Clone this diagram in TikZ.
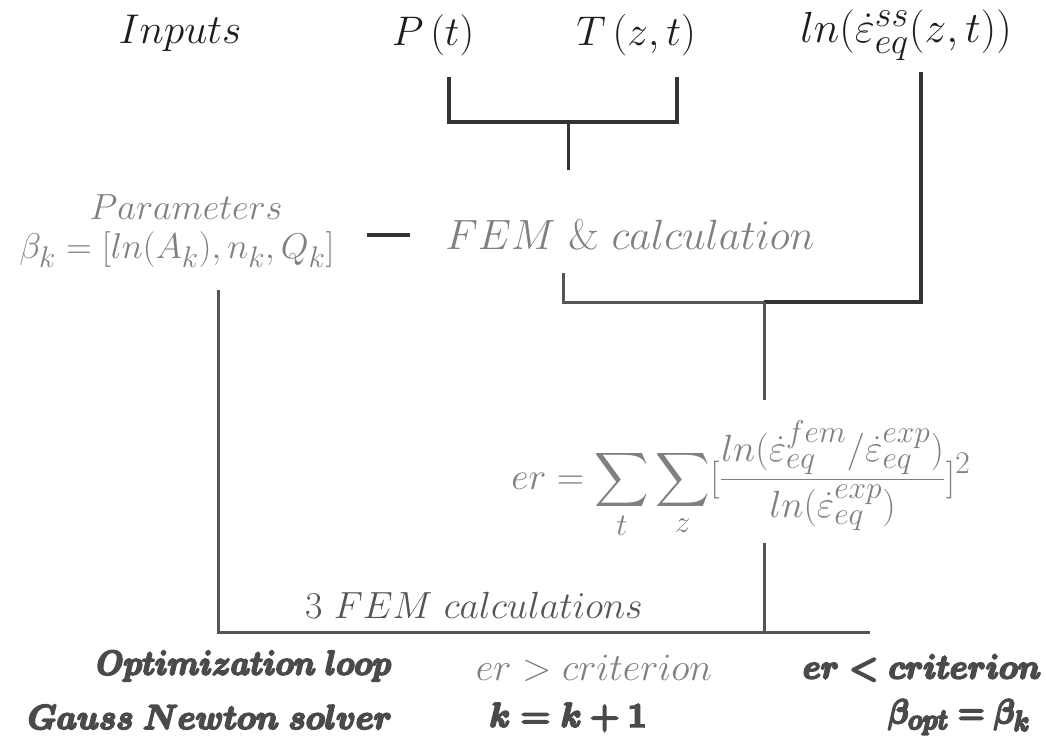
\documentclass[tikz,border=0pt]{standalone}
\usepackage{fix-cm}
\usepackage{amsmath,bm}
\definecolor{inkdark}{HTML}{1E1E1E}
\definecolor{inkgray}{HTML}{808080}
\definecolor{inkmid}{HTML}{555555}
\definecolor{inkbold}{HTML}{4A4A4A}
\definecolor{linedark}{HTML}{333333}
\definecolor{linegray}{HTML}{555555}
\newcommand\heavytext[1]{\special{pdf:literal direct 2 Tr 1.5 w}#1\special{pdf:literal direct 0 Tr}}
\begin{document}
\begin{tikzpicture}[x=1pt,y=-1pt,
  txt/.style={font=\Huge, inner sep=0pt, anchor=center},
  bld/.style={font=\Huge\boldmath, inner sep=0pt, anchor=center, text=inkbold},
  wire/.style={line width=3pt, color=linegray},
  wiredark/.style={line width=3.5pt, color=linedark}]
\path[use as bounding box, fill=white] (0,0) rectangle (1046,749);
% top row
\node[txt, scale=1.67, text=inkdark] (inputs) at (180,33) {$Inputs$};
\node[txt, scale=1.66, text=inkdark] (P) at (433,35) {$P\left(t\right)$};
\node[txt, scale=1.67, text=inkdark] (T) at (636,35) {$T\left(z,t\right)$};
\node[txt, scale=1.75, text=inkdark] (eps) at (906,35) {$ln(\dot{\varepsilon}^{ss}_{eq}(z,t))$};
% middle
\node[txt, scale=1.46, text=inkgray] (params) at (186,207) {$Parameters$};
\node[txt, scale=1.44, text=inkgray] (beta) at (177,250) {$\beta_k=[ln(A_k),n_k,Q_k]$};
\node[txt, scale=1.7, text=inkgray] (fem) at (630,235) {$FEM\ \&\ calculation$};
\node[txt, scale=1.52, text=inkgray] (er) at (741,480) {$\displaystyle er=\sum_t\sum_z[\frac{ln(\dot{\varepsilon}^{fem}_{eq}/\dot{\varepsilon}^{exp}_{eq})}{ln(\dot{\varepsilon}^{exp}_{eq})}]^2$};
\node[txt, scale=1.52, text=inkmid] (three) at (474,605) {$3\ FEM\ calculations$};
% bottom
\node[bld, scale=1.37, xscale=0.91] (opt) at (244,666) {\heavytext{$Optimization\ loop$}};
\node[txt, scale=1.55, text=inkgray] (gt) at (594,668) {$er>criterion$};
\node[bld, scale=1.37, xscale=0.95] (lt) at (922,668) {\heavytext{$er<criterion$}};
\node[bld, scale=1.37, xscale=0.95] (gn) at (210,717) {\heavytext{$Gauss\ Newton\ solver$}};
\node[bld, scale=1.37, xscale=0.98] (kk) at (568,717) {\heavytext{$k=k+1$}};
\node[bld, scale=1.37, xscale=0.88] (bopt) at (959,717) {\heavytext{$\beta_{opt}=\beta_k$}};
% coordinates
\coordinate (pTop) at (449,77);
\coordinate (tTop) at (677,77);
\coordinate (pBot) at (449,122);
\coordinate (tBot) at (677,122);
\coordinate (jTop) at (568,122);
\coordinate (femIn) at (568,170);
\coordinate (eTop) at (921,72);
\coordinate (eBot) at (921,302);
\coordinate (fBot) at (563,302);
\coordinate (fTop) at (563,273);
\coordinate (jMid) at (764,302);
\coordinate (erIn) at (764,400);
\coordinate (erOut) at (764,543);
\coordinate (jLow) at (764,632);
\coordinate (bL) at (218,632);
\coordinate (bTop) at (218,290);
\coordinate (bR) at (870,632);
\coordinate (dashL) at (367,235);
\coordinate (dashR) at (410,235);
% connectors
\draw[wiredark] (pTop) -- (pBot) -- (tBot) -- (tTop);
\draw[wiredark, line width=3pt] (jTop) -- (femIn);
\draw[wiredark] (eTop) -- (eBot) -- (jMid);
\draw[wire] (jMid) -- (fBot) -- (fTop);
\draw[wire] (jMid) -- (erIn);
\draw[wire] (erOut) -- (jLow);
\draw[wire] (bTop) -- (bL) -- (bR);
\draw[line width=4pt, color=linedark] (dashL) -- (dashR);
\end{tikzpicture}
\end{document}
